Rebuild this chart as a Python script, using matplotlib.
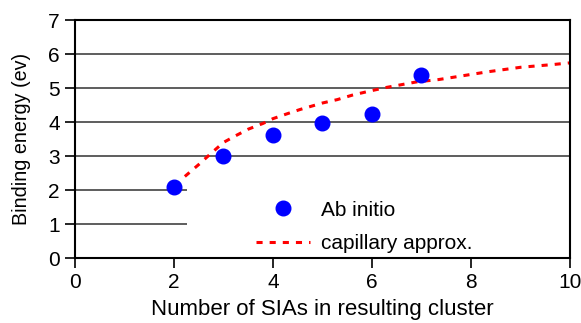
import matplotlib
matplotlib.use("Agg")
import matplotlib.pyplot as plt
from matplotlib.patches import Rectangle

plt.rcParams['font.family'] = ['Liberation Sans', 'DejaVu Sans']

# ab initio binding energies
n_sia = [2, 3, 4, 5, 6, 7]
e_abinitio = [2.09, 2.99, 3.61, 3.98, 4.23, 5.37]

# capillary approximation curve
n_cap = [2.22, 2.5, 2.75, 3.0, 3.25, 3.5, 3.8, 4.0, 4.3, 4.55, 5.0, 5.3,
         5.6, 5.95, 6.3, 6.6, 6.9, 7.35, 7.7, 8.0, 8.35, 9.0, 9.65, 10.0]
e_cap = [2.40, 2.75, 3.08, 3.40, 3.60, 3.79, 3.96, 4.10, 4.25, 4.37, 4.56, 4.66,
         4.79, 4.91, 5.02, 5.10, 5.18, 5.25, 5.33, 5.40, 5.48, 5.61, 5.69, 5.74]

fig = plt.figure(figsize=(5.81, 3.23), dpi=100)
ax = fig.add_axes([0.129, 0.201, 0.852, 0.737])

ax.set_xlim(0, 10)
ax.set_ylim(0, 7)
ax.set_xticks(range(0, 11, 2))
ax.set_yticks(range(0, 8))

ax.set_axisbelow(True)
ax.grid(axis='y', color='#505050', linewidth=1.3)

# white box behind the legend hides the lower grid lines
ax.add_patch(Rectangle((0.226, 0.0), 0.774, 0.343, transform=ax.transAxes,
                       facecolor='white', edgecolor='none', zorder=1))

ax.plot(n_cap, e_cap, color='red', linewidth=2.2, dashes=(2, 2.3),
        label='capillary approx.', zorder=2)
ax.plot(n_sia, e_abinitio, 'o', color='blue', markersize=10.5,
        label='Ab initio', zorder=3)

handles, labels = ax.get_legend_handles_labels()
ax.legend(handles[::-1], labels[::-1], loc='lower left',
          bbox_to_anchor=(0.328, -0.058), frameon=False, fontsize=15,
          handlelength=2.6, handletextpad=0.5, labelspacing=0.7)

for s in ax.spines.values():
    s.set_linewidth(1.5)
ax.tick_params(direction='out', length=7, width=1.2, labelsize=15,
               pad=4, top=False, right=False)

ax.set_xlabel("Number of SIAs in resulting cluster", fontsize=16, labelpad=5)
ax.set_ylabel("Binding energy (ev)", fontsize=14.2, labelpad=12)

plt.savefig("out.png", dpi=100)
